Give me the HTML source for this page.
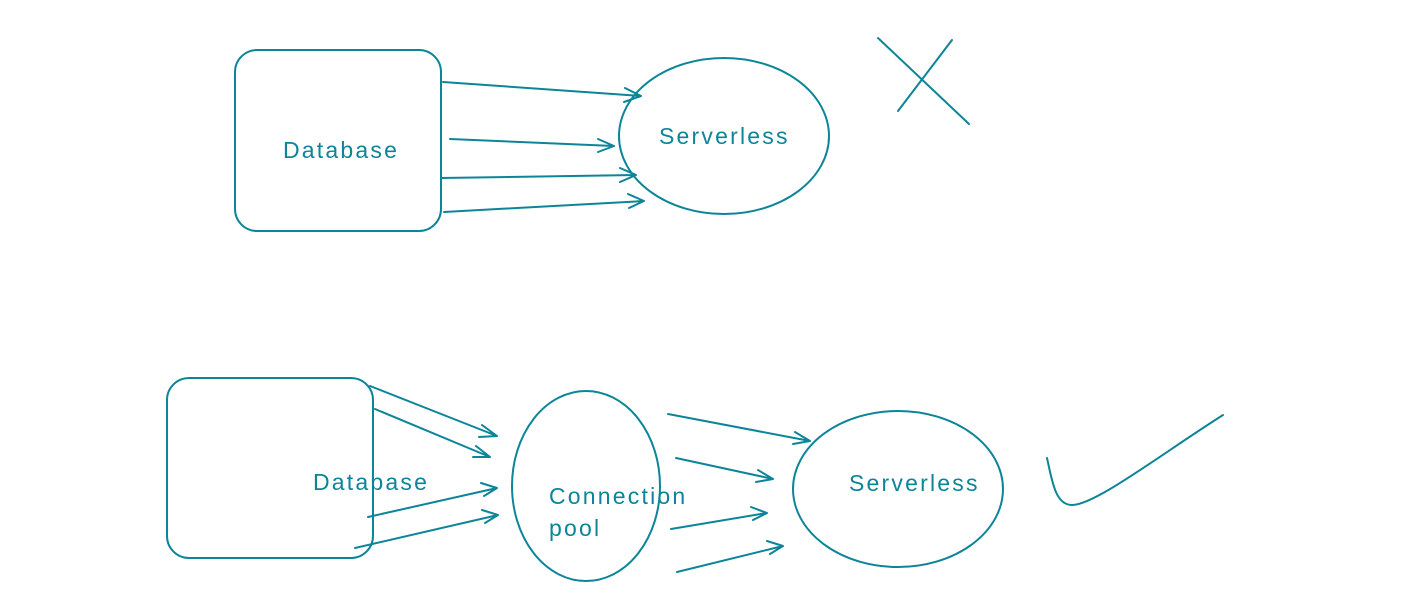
<!DOCTYPE html>
<html><head><meta charset="utf-8"><style>
html,body{margin:0;padding:0;background:#fff;width:1419px;height:613px;overflow:hidden}
text{font-family:"Liberation Sans",sans-serif;fill:#0c8599;font-size:23px;letter-spacing:2.2px}
</style></head><body>
<svg width="1419" height="613" viewBox="0 0 1419 613" xmlns="http://www.w3.org/2000/svg">
<g fill="none" stroke="#0c8599" stroke-width="2" stroke-linecap="round" stroke-linejoin="round">
<rect x="235" y="50" width="206" height="181" rx="22"/>
<ellipse cx="724" cy="136" rx="105" ry="78"/>
<path d="M443 82 L641 96 M625 88 L641 96 L624 102"/>
<path d="M450 139 L614 146 M598 139 L614 146 L598 152"/>
<path d="M441 178 L636 175 M620 168 L636 175 L620 182"/>
<path d="M444 212 L644 201 M628 194 L644 201 L629 208"/>
<path d="M878 38 L969 124 M952 40 L898 111"/>
<rect x="167" y="378" width="206" height="180" rx="22"/>
<ellipse cx="586" cy="486" rx="74" ry="95"/>
<ellipse cx="898" cy="489" rx="105" ry="78"/>
<path d="M370 386 L497 436 M482 425 L497 436 L479 437"/>
<path d="M375 409 L490 457 M476 446 L490 457 L473 457"/>
<path d="M368 517 L497 488 M481 483 L497 488 L484 496"/>
<path d="M355 548 L498 515 M482 510 L498 515 L485 523"/>
<path d="M668 414 L810 441 M795 432 L810 441 L793 444"/>
<path d="M676 458 L773 479 M758 470 L773 479 L756 482"/>
<path d="M671 529 L767 513 M751 507 L767 513 L753 520"/>
<path d="M677 572 L783 546 M767 541 L783 546 L770 554"/>
<path d="M1047 458 C1052 480 1055 505 1072 505 C1095 505 1160 455 1223 415"/>
</g>
<text x="283" y="158">Database</text>
<text x="659" y="144">Serverless</text>
<text x="313" y="490">Database</text>
<text x="549" y="504">Connection</text>
<text x="549" y="536">pool</text>
<text x="849" y="491">Serverless</text>
</svg>
</body></html>
